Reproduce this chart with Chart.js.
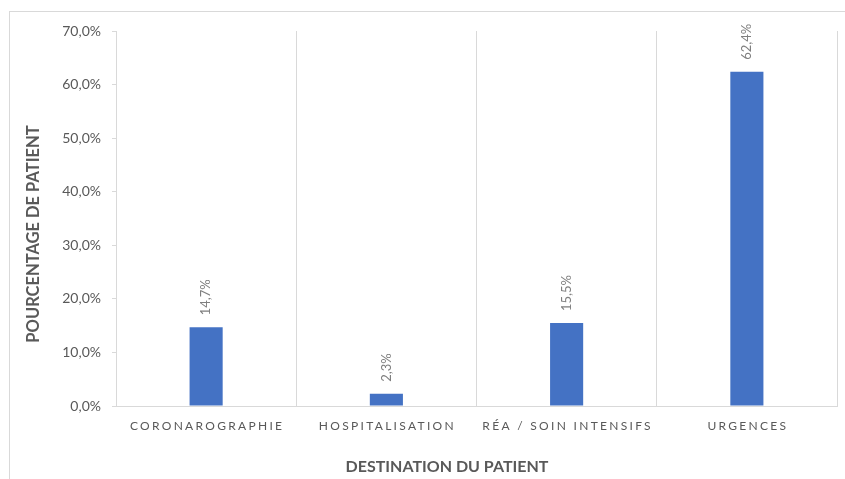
<!DOCTYPE html>
<html>
<head>
<meta charset="utf-8">
<script src="https://cdn.jsdelivr.net/npm/chart.js@4/dist/chart.umd.min.js"></script>
<style>
    html, body { margin: 0; padding: 0; background: #ffffff; }
    #cadre { position: relative; width: 845px; height: 479px; }
    #bord { position: absolute; left: 9px; top: 11px; right: 0; bottom: 0;
            border-top: 1px solid #d9d9d9; border-left: 1px solid #d9d9d9; }
</style>
</head>
<body>
<div id="cadre">
    <div id="bord"></div>
    <canvas id="graphique-destination" width="845" height="479"></canvas>
</div>
<script>
// Données du graphique
const destinations = ["CORONAROGRAPHIE", "HOSPITALISATION", "RÉA / SOIN INTENSIFS", "URGENCES"];
const pourcentages = [14.7, 2.3, 15.5, 62.4];
const titreX = "DESTINATION DU PATIENT";
const titreY = "POURCENTAGE DE PATIENT";

const gris = "#595959";
const police = "Lato, 'Open Sans', sans-serif";

// Format français : 14,7%
function formatPourcent(v, decimales) {
    return v.toFixed(decimales).replace(".", ",") + "%";
}

// Plugin : étiquettes verticales au-dessus des barres, libellés espacés et titres des axes
const decorations = {
    id: "decorations",
    afterDatasetsDraw(chart) {
        const ctx = chart.ctx;
        const barres = chart.getDatasetMeta(0).data;
        ctx.save();
        ctx.fillStyle = "#7f7f7f";
        ctx.font = "13px " + police;
        ctx.textAlign = "left";
        ctx.textBaseline = "middle";
        barres.forEach((barre, i) => {
            ctx.save();
            ctx.translate(barre.x, barre.y - 12);
            ctx.rotate(-Math.PI / 2);
            ctx.fillText(formatPourcent(pourcentages[i], 1), 0, 0);
            ctx.restore();
        });
        ctx.restore();
    },
    afterDraw(chart) {
        const ctx = chart.ctx;
        const echelleX = chart.scales.x;
        ctx.save();
        // libellés des catégories, avec espacement des lettres
        ctx.fillStyle = gris;
        ctx.font = "12px " + police;
        ctx.letterSpacing = "2.3px";
        ctx.textAlign = "center";
        ctx.textBaseline = "middle";
        destinations.forEach((d, i) => {
            ctx.fillText(d, echelleX.getPixelForValue(i) + 1, 426);
        });
        ctx.letterSpacing = "0px";
        // titres des axes
        ctx.font = "bold 16px " + police;
        ctx.fillText(titreX, 447, 467);
        ctx.font = "bold 16.5px " + police;
        ctx.translate(34, 234);
        ctx.rotate(-Math.PI / 2);
        ctx.fillText(titreY, 0, 0);
        ctx.restore();
    }
};

const config = {
    type: "bar",
    data: {
        labels: destinations,
        datasets: [{
            data: pourcentages,
            backgroundColor: "#4472c4",
            barPercentage: 0.9,
            categoryPercentage: 0.204,
        }],
    },
    options: {
        responsive: false,
        animation: false,
        layout: { padding: { left: 0, right: 8, top: 31, bottom: 0 } },
        plugins: {
            legend: { display: false },
            tooltip: { enabled: false },
        },
        scales: {
            x: {
                grid: { offset: true, color: "#d9d9d9", tickLength: 0 },
                border: { color: "#d9d9d9" },
                ticks: { display: false },
                afterFit(scale) { scale.height = 73; },
            },
            y: {
                min: 0,
                max: 70,
                grid: { drawOnChartArea: false, color: "#d9d9d9", tickLength: 4 },
                border: { color: "#d9d9d9" },
                ticks: {
                    stepSize: 10,
                    padding: 11,
                    color: gris,
                    font: { family: police, size: 14 },
                    callback: v => formatPourcent(v, 1),
                },
                afterFit(scale) { scale.width = 116; },
            },
        },
    },
    plugins: [decorations],
};

const graphique = new Chart(document.querySelector("#graphique-destination"), config);
</script>
</body>
</html>
